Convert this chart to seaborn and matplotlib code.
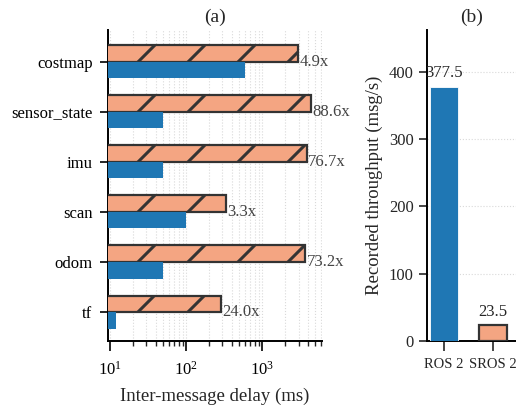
import matplotlib
matplotlib.use("Agg")
import matplotlib.pyplot as plt
import seaborn as sns
import pandas as pd
from matplotlib.backend_bases import GraphicsContextBase
from matplotlib.path import Path
from matplotlib.ticker import LogLocator

# ---- data ----
topics = ["costmap", "sensor_state", "imu", "scan", "odom", "tf"]
ros2_delay = [600, 50, 50, 100, 50, 12]
sros2_delay = [2940, 4430, 3835, 330, 3660, 288]
slowdown = ["4.9x", "88.6x", "76.7x", "3.3x", "73.2x", "24.0x"]
systems = ["ROS 2", "SROS 2"]
throughput = [377.5, 23.5]

BLUE = "#1f77b4"
SALMON = "#f4a582"
EDGE = "#333333"

# sparser hatch
def _get_hatch_path(self, density=4.0):
    h = self.get_hatch()
    if h is None:
        return None
    return Path.hatch(h, density)
GraphicsContextBase.get_hatch_path = _get_hatch_path

sns.set_theme(style="ticks")
plt.rcParams["font.family"] = ["Liberation Serif", "DejaVu Serif"]
plt.rcParams["mathtext.fontset"] = "custom"
plt.rcParams["mathtext.rm"] = "Liberation Serif"
plt.rcParams["mathtext.it"] = "Liberation Serif:italic"
plt.rcParams["hatch.color"] = EDGE
plt.rcParams["hatch.linewidth"] = 2.2

fig = plt.figure(figsize=(5.16, 4.05), dpi=100)
ax1 = fig.add_axes([0.209, 0.158, 0.415, 0.768])
ax2 = fig.add_axes([0.8275, 0.158, 0.1725, 0.768])

# ---- panel (a) ----
df = pd.DataFrame({
    "topic": topics * 2,
    "delay": sros2_delay + ros2_delay,
    "system": ["SROS 2"] * len(topics) + ["ROS 2"] * len(topics),
})
sns.barplot(data=df, y="topic", x="delay", hue="system", orient="h",
            hue_order=["SROS 2", "ROS 2"], palette={"SROS 2": SALMON, "ROS 2": BLUE},
            width=0.66, saturation=1, ax=ax1, legend=False, zorder=3)
ax1.set_xscale("log")
for p in ax1.containers[0]:
    p.set_hatch("/")
    p.set_edgecolor(EDGE)
    p.set_linewidth(1.6)
for p in ax1.containers[1]:
    p.set_edgecolor("none")
    p.set_linewidth(0)
for i, (v, s) in enumerate(zip(sros2_delay, slowdown)):
    ax1.text(v * 1.04, i, s, va="center", ha="left", fontsize=12, color="#444444")
ax1.set_xlim(9.4, 6100)
ax1.set_ylim(5.58, -0.64)
ax1.xaxis.set_minor_locator(LogLocator(base=10, subs=range(2, 10)))
ax1.grid(True, which="both", axis="x", linestyle=":", color="#d9d9d9", linewidth=0.8, zorder=0)
ax1.set_axisbelow(True)
ax1.set_xlabel("Inter-message delay (ms)", fontsize=13.5, labelpad=7)
ax1.set_ylabel("")
ax1.set_title("(a)", fontsize=14)
ax1.tick_params(axis="both", labelsize=12, colors="black", width=1.2)
ax1.tick_params(axis="x", which="major", length=7, pad=7)
ax1.tick_params(axis="x", which="minor", length=3.5, width=1.0)
ax1.tick_params(axis="y", length=6, pad=5)
sns.despine(ax=ax1)
for s in ["left", "bottom"]:
    ax1.spines[s].set_linewidth(1.4)
    ax1.spines[s].set_color("black")

# ---- panel (b) ----
dfb = pd.DataFrame({"system": systems, "thr": throughput})
sns.barplot(data=dfb, x="system", y="thr", hue="system",
            palette={"ROS 2": BLUE, "SROS 2": SALMON}, width=0.58, saturation=1,
            ax=ax2, legend=False, zorder=3)
bars = ax2.patches
bars[0].set_edgecolor("white")
bars[0].set_linewidth(0.6)
bars[1].set_hatch("/")
bars[1].set_edgecolor(EDGE)
bars[1].set_linewidth(1.6)
for i, v in enumerate(throughput):
    ax2.annotate(f"{v}", (i, v), xytext=(0, 4), textcoords="offset points",
                 ha="center", va="bottom", fontsize=12)
ax2.set_ylim(0, 462)
ax2.set_xlim(-0.35, 1.47)
ax2.set_yticks([0, 100, 200, 300, 400])
ax2.grid(True, axis="y", linestyle=":", color="#d9d9d9", linewidth=0.8, zorder=0)
ax2.set_axisbelow(True)
ax2.set_xlabel("")
ax2.set_ylabel("Recorded throughput (msg/s)", fontsize=13.5)
ax2.set_title("(b)", fontsize=14)
ax2.tick_params(axis="y", labelsize=12, length=6, width=1.2)
ax2.tick_params(axis="x", labelsize=10.5, length=7, width=1.2, pad=5)
sns.despine(ax=ax2)
for s in ["left", "bottom"]:
    ax2.spines[s].set_linewidth(1.4)
    ax2.spines[s].set_color("black")

fig.savefig("out.png", dpi=100)
